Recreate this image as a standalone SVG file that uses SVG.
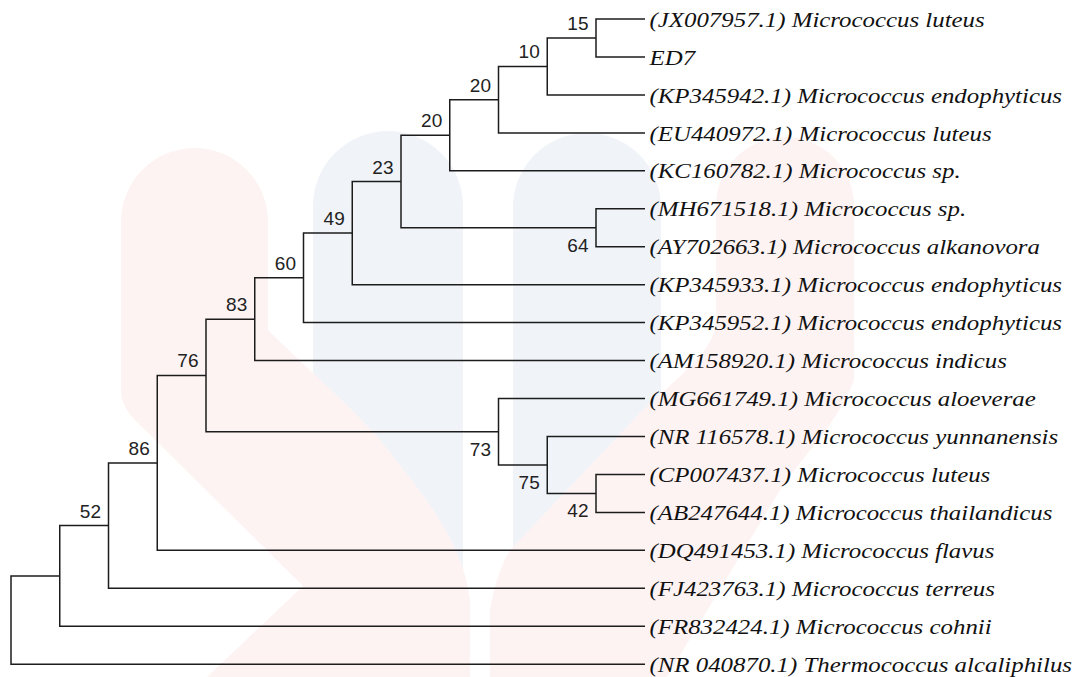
<svg xmlns="http://www.w3.org/2000/svg" width="1080" height="677" viewBox="0 0 1080 677">
<style>
.br{fill:none;stroke:#1c1c1c;stroke-width:1.5;stroke-linejoin:miter}
.bs{font-family:'Liberation Sans',Arial,sans-serif;font-size:19px;fill:#222;text-anchor:end}
.lf{font-family:'Liberation Serif','Times New Roman','DejaVu Serif',serif;font-style:italic;font-size:22px;fill:#111}
.wb{fill:#f0f4f9}
.wp{fill:#fef3f3}
</style>
<rect width="1080" height="677" fill="#ffffff"/>
<g id="watermark">
<path class="wb" d="M313,206 A75,75 0 0 1 463,206 L463,677 L313,677 Z"/>
<path class="wb" d="M513,207 A74,74 0 0 1 661,207 L661,677 L513,677 Z"/>
<path class="wp" d="M121,221.5 A73.5,73.5 0 0 1 268,221.5 L268,330 C300,362 350,405 380,440 C420,490 463,540 470,600 L470,677 L207,677 L303,586 L135,420 C125,410 121,400 121,390 Z"/>
<path class="wp" d="M716,206 A69,69 0 0 1 854,206 L854,380 C840,420 800,460 780,490 L667,677 L490,677 L490,610 C495,580 505,555 513,547 L640,413 C680,375 716,350 716,320 Z"/>
</g>
<g id="connectors">
<path class="br" d="M645,19 H596 V57 H645"/>
<path class="br" d="M596,38 H547.25 V94.9 H645"/>
<path class="br" d="M547.25,66.45 H498.5 V132.9 H645"/>
<path class="br" d="M498.5,99.7 H449.75 V170.8 H645"/>
<path class="br" d="M645,208.8 H596 V246.7 H645"/>
<path class="br" d="M449.75,135.25 H401 V227.75 H596"/>
<path class="br" d="M401,181.5 H352.25 V284.7 H645"/>
<path class="br" d="M352.25,233.1 H303.5 V322.6 H645"/>
<path class="br" d="M303.5,277.85 H254.75 V360.6 H645"/>
<path class="br" d="M645,474.4 H596 V512.4 H645"/>
<path class="br" d="M645,436.5 H547.25 V493.4 H596"/>
<path class="br" d="M645,398.5 H498.5 V464.95 H547.25"/>
<path class="br" d="M254.75,319.2 H206 V431.7 H498.5"/>
<path class="br" d="M206,375.45 H157.25 V550.3 H645"/>
<path class="br" d="M157.25,462.9 H108.5 V588.3 H645"/>
<path class="br" d="M108.5,525.6 H59.75 V626.2 H645"/>
<path class="br" d="M59.75,575.9 H11 V664.2 H645"/>
</g>
<g id="node-15"><text class="bs" x="588.5" y="30">15</text></g>
<g id="node-10"><text class="bs" x="539.75" y="58.45">10</text></g>
<g id="node-20a"><text class="bs" x="491" y="91.7">20</text></g>
<g id="node-20b"><text class="bs" x="442.25" y="127.25">20</text></g>
<g id="node-23"><text class="bs" x="393.5" y="173.5">23</text></g>
<g id="node-49"><text class="bs" x="344.75" y="225.1">49</text></g>
<g id="node-60"><text class="bs" x="296" y="269.85">60</text></g>
<g id="node-83"><text class="bs" x="247.25" y="311.2">83</text></g>
<g id="node-76"><text class="bs" x="198.5" y="367.45">76</text></g>
<g id="node-86"><text class="bs" x="149.75" y="454.9">86</text></g>
<g id="node-52"><text class="bs" x="101" y="517.6">52</text></g>
<g id="node-64"><text class="bs" x="588.5" y="251.75">64</text></g>
<g id="node-73"><text class="bs" x="491" y="455.7">73</text></g>
<g id="node-75"><text class="bs" x="539.75" y="488.95">75</text></g>
<g id="node-42"><text class="bs" x="588.5" y="517.4">42</text></g>
<g id="leaves" transform="translate(649.5 0) scale(1.13 1)" font-family="'Liberation Serif', 'DejaVu Serif', serif" font-style="italic">
<g id="leaf-JX007957"><text class="lf" x="0" y="26.7">(JX007957.1) Micrococcus luteus</text></g>
<g id="leaf-ED7"><text class="lf" x="0" y="64.7">ED7</text></g>
<g id="leaf-KP345942"><text class="lf" x="0" y="102.6">(KP345942.1) Micrococcus endophyticus</text></g>
<g id="leaf-EU440972"><text class="lf" x="0" y="140.6">(EU440972.1) Micrococcus luteus</text></g>
<g id="leaf-KC160782"><text class="lf" x="0" y="178.5">(KC160782.1) Micrococcus sp.</text></g>
<g id="leaf-MH671518"><text class="lf" x="0" y="216.5">(MH671518.1) Micrococcus sp.</text></g>
<g id="leaf-AY702663"><text class="lf" x="0" y="254.4">(AY702663.1) Micrococcus alkanovora</text></g>
<g id="leaf-KP345933"><text class="lf" x="0" y="292.4">(KP345933.1) Micrococcus endophyticus</text></g>
<g id="leaf-KP345952"><text class="lf" x="0" y="330.3">(KP345952.1) Micrococcus endophyticus</text></g>
<g id="leaf-AM158920"><text class="lf" x="0" y="368.3">(AM158920.1) Micrococcus indicus</text></g>
<g id="leaf-MG661749"><text class="lf" x="0" y="406.2">(MG661749.1) Micrococcus aloeverae</text></g>
<g id="leaf-NR116578"><text class="lf" x="0" y="444.2">(NR 116578.1) Micrococcus yunnanensis</text></g>
<g id="leaf-CP007437"><text class="lf" x="0" y="482.1">(CP007437.1) Micrococcus luteus</text></g>
<g id="leaf-AB247644"><text class="lf" x="0" y="520.1">(AB247644.1) Micrococcus thailandicus</text></g>
<g id="leaf-DQ491453"><text class="lf" x="0" y="558">(DQ491453.1) Micrococcus flavus</text></g>
<g id="leaf-FJ423763"><text class="lf" x="0" y="596">(FJ423763.1) Micrococcus terreus</text></g>
<g id="leaf-FR832424"><text class="lf" x="0" y="633.9">(FR832424.1) Micrococcus cohnii</text></g>
<g id="leaf-NR040870"><text class="lf" x="0" y="671.9">(NR 040870.1) Thermococcus alcaliphilus</text></g>
</g>
</svg>
